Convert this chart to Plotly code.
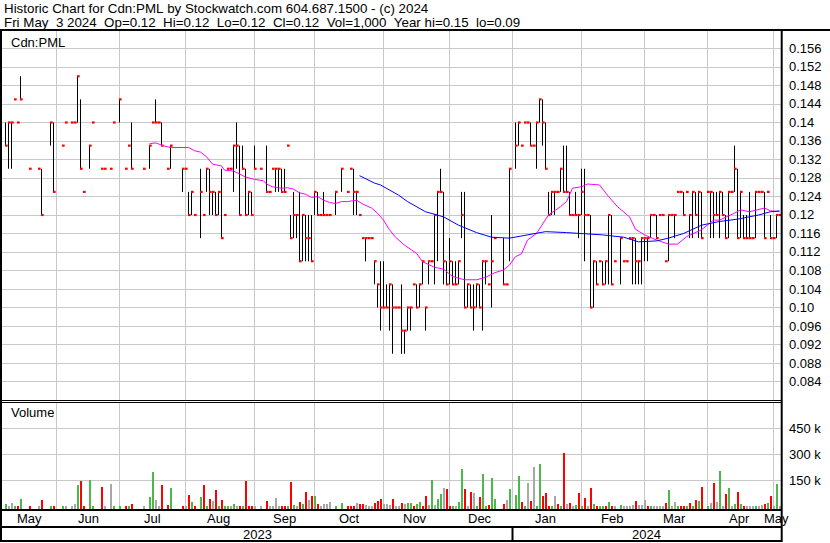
import pandas as pd
import plotly.graph_objects as go

W, H = 830, 543
FONT = "Liberation Sans, Arial, sans-serif"

# ---------------- data (one entry per weekday, None = no trade) ----------------
DAYS = pd.bdate_range("2023-05-09", "2024-05-03")

HIGH = [
    .14, .14, .14, .145, .14, .15, None, None, .13, None,
    None, .13, .13, None, None, .14, .14, None, None, .135,
    .14, None, .14, .14, .15, .145, .125, None, .135, .14,
    None, None, .13, .13, None, .13, .14, None, .145, None,
    .13, .135, .14, None, None, None, .13, None, .135, .14,
    .145, .14, .14, None, .13, .135, None, None, None, .13,
    .13, .125, .125, .12, None, .13, .12, .13, .13, .125,
    .125, .125, .13, .12, .13, .13, .135, .14, .135, .135,
    .13, .125, .125, .135, None, .13, None, .135, .125, .13,
    .13, .13, .13, .13, .135, .12, .125, .12, .125, .12,
    .12, .12, .12, .125, .125, .12, .125, .12, .12, None,
    .125, None, .13, None, .125, .13, .13, .125, .12, .115,
    .115, .115, .115, .11, .105, .11, .11, .105, .105, .105,
    .10, .10, .105, .095, .10, .10, .105, .105, .105, .11,
    .10, .11, .11, .12, .125, .13, .125, .11, .115, .11,
    .11, .11, .125, .125, .105, .105, .105, .105, .105, .11,
    .11, .105, .12, .115, None, None, .115, .105, .13, None,
    .14, .14, .135, .14, .14, .14, .135, .14, .145, .145,
    .14, .125, .125, .125, .125, .13, .135, .135, .125, .12,
    .125, .12, .13, .13, .12, .12, .11, .11, .11, .11,
    .11, .12, .12, .11, None, .115, .11, .11, .115, .115,
    .115, .11, .115, .115, .115, .12, .12, .12, .12, .12,
    .11, .12, .12, .12, .125, .125, .125, .125, .12, .125,
    .125, .125, .125, None, .125, .125, .125, .125, .125, .125,
    .12, .125, .125, .135, .13, .125, .12, .12, .125, .115,
    .125, .125, .125, .125, .125, .12, .115, .12, .12,
]

LOW = [
    .135, .13, .13, .145, .14, .145, None, None, .13, None,
    None, .13, .12, None, None, .135, .125, None, None, .135,
    .14, None, .14, .14, .14, .13, .125, None, .13, .14,
    None, None, .13, .13, None, .13, .14, None, .14, None,
    .13, .135, .13, None, None, None, .13, None, .13, .14,
    .14, .14, .135, None, .13, .13, None, None, None, .125,
    .13, .12, .12, .12, None, .115, .12, .125, .12, .12,
    .12, .12, .115, .12, .13, .13, .125, .13, .12, .13,
    .12, .12, .12, .13, None, .13, None, .125, .125, .13,
    .125, .125, .125, .125, .135, .115, .115, .115, .11, .11,
    .11, .11, .11, .12, .12, .12, .12, .12, .12, None,
    .12, None, .125, None, .125, .13, .12, .12, .12, .115,
    .11, .115, .115, .105, .10, .095, .10, .10, .095, .09,
    .10, .10, .09, .09, .095, .095, .105, .10, .10, .105,
    .095, .105, .11, .105, .11, .125, .105, .105, .105, .105,
    .105, .105, .115, .10, .10, .10, .095, .10, .10, .095,
    .105, .105, .10, .115, None, None, .105, .105, .11, None,
    .13, .135, .135, .14, .14, .135, .135, .13, .14, .135,
    .13, .12, .12, .12, .125, .125, .125, .125, .12, .12,
    .12, .115, .12, .11, .12, .10, .10, .105, .11, .105,
    .105, .105, .105, .11, None, .105, .11, .11, .115, .105,
    .105, .105, .105, .11, .11, .115, .12, .115, .12, .12,
    .11, .11, .12, .115, .125, .125, .12, .125, .115, .115,
    .12, .115, .115, None, .125, .115, .115, .12, .115, .12,
    .115, .115, .125, .125, .115, .115, .115, .115, .115, .115,
    .115, .125, .125, .115, .125, .115, .115, .115, .12,
]

CLOSE = [
    .135, .14, .14, .145, .14, .145, None, None, .13, None,
    None, .13, .12, None, None, .14, .125, None, None, .135,
    .14, None, .14, .14, .15, .13, .125, None, .135, .14,
    None, None, .13, .13, None, .13, .14, None, .145, None,
    .13, .135, .13, None, None, None, .13, None, .135, .14,
    .14, .14, .135, None, .13, .135, None, None, None, .13,
    .13, .12, .125, .12, None, .125, .12, .13, .125, .125,
    .12, .125, .115, .12, .13, .13, .135, .135, .12, .13,
    .12, .125, .12, .13, None, .13, None, .125, .125, .13,
    .13, .13, .125, .125, .135, .115, .12, .12, .11, .12,
    .115, .115, .11, .125, .12, .12, .12, .12, .12, None,
    .125, None, .13, None, .125, .13, .125, .125, .12, .115,
    .115, .115, .115, .11, .105, .10, .10, .10, .105, .10,
    .10, .10, .095, .095, .10, .10, .105, .10, .105, .11,
    .10, .11, .11, .12, .125, .125, .11, .105, .11, .105,
    .105, .11, .12, .10, .105, .10, .10, .105, .10, .11,
    .11, .105, .11, .115, None, None, .105, .105, .13, None,
    .135, .14, .135, .14, .14, .135, .135, .14, .145, .14,
    .13, .12, .125, .125, .125, .13, .125, .125, .12, .12,
    .12, .12, .125, .12, .12, .10, .11, .105, .11, .105,
    .11, .12, .105, .11, None, .115, .11, .11, .115, .115,
    .11, .11, .115, .115, .115, .12, .12, .115, .12, .12,
    .11, .12, .12, .12, .125, .125, .12, .125, .12, .125,
    .12, .125, .115, None, .125, .125, .12, .12, .125, .12,
    .115, .125, .125, .13, .115, .125, .115, .115, .115, .115,
    .125, .125, .125, .115, .125, .115, .115, .12, .12,
]

VOLUME_K = [
    13, 2, 17, 2, 2, 42, 0, 0, 2, 0,
    0, 2, 34, 0, 0, 4, 4, 0, 0, 2,
    2, 0, 2, 13, 123, 146, 2, 0, 150, 2,
    0, 0, 111, 2, 0, 127, 2, 0, 2, 0,
    2, 2, 13, 0, 0, 0, 2, 0, 54, 198,
    36, 2, 123, 0, 8, 106, 0, 0, 0, 4,
    2, 65, 25, 2, 0, 54, 123, 2, 42, 31,
    94, 4, 36, 2, 2, 2, 13, 2, 4, 2,
    146, 2, 4, 2, 0, 2, 0, 31, 4, 2,
    46, 2, 2, 2, 4, 140, 8, 4, 25, 13,
    82, 36, 59, 59, 13, 2, 13, 13, 25, 0,
    4, 0, 19, 0, 2, 2, 4, 19, 13, 13,
    8, 2, 2, 19, 31, 42, 13, 13, 8, 42,
    2, 2, 19, 13, 19, 19, 2, 13, 25, 2,
    59, 8, 152, 8, 42, 71, 106, 100, 2, 4,
    4, 25, 215, 100, 2, 82, 77, 2, 54, 186,
    2, 8, 163, 42, 0, 0, 13, 36, 100, 0,
    65, 175, 25, 2, 134, 31, 227, 4, 244, 59,
    77, 2, 4, 59, 13, 4, 307, 13, 19, 2,
    8, 77, 2, 48, 2, 106, 13, 2, 2, 2,
    2, 25, 4, 2, 0, 8, 2, 2, 2, 8,
    31, 8, 8, 36, 2, 4, 2, 2, 2, 4,
    19, 94, 2, 25, 4, 2, 2, 2, 19, 4,
    36, 31, 111, 0, 2, 19, 134, 25, 205, 2,
    71, 106, 2, 13, 82, 13, 2, 2, 2, 2,
    2, 2, 8, 13, 19, 59, 2, 127, 1,
]

# G = up, R = down, N = unchanged, - = no trade
VOL_DIR = list(
    "GNNGRG--R-" "-NR--GR--G" "N-NNGRR-GG" "--RN-NG-G-" "RGR---N-GG"
    "NNR-RG---R" "NRGR-GRGRN" "RGRGGNGNRG" "RRRN-N-RNN" "NNRRGRGNRG"
    "RNRGRNNNN-" "G-G-RRRNRR" "NNNRRRNNNR" "NNRNGGRGGR" "RNGNGGNRRG"
    "NGGRNRNGRG" "GRGG--RNG-" "GGRGNRNGGR" "RRGNRGRNRN" "GRGRNRGRGG"
    "RGRN-GNNNN" "RNNNRGNNNN" "RGNNGRRGRG" "RGR-GNRNGN" "RGNGRGRNNN"
    "GNNRGRNGN"
)

# moving averages (day index, value)
MA_SHORT_IDX = [48, 50, 53, 55, 61, 63, 65, 67, 69, 72, 73, 76, 78, 80, 83, 86, 87, 89, 92, 94,
                96, 98, 100, 102, 104, 106, 108, 110, 112, 114, 117, 119, 122, 124, 126, 128, 130,
                133, 137, 139, 143, 146, 149, 153, 157, 160, 163, 166, 168, 170, 172, 174, 177,
                180, 181, 185, 187, 189, 192, 194, 198, 201, 204, 208, 210, 213, 217, 221, 224,
                227, 232, 236, 238, 243, 245, 248, 253, 255, 258]
MA_SHORT_VAL = [.1354, .1356, .1349, .1346, .1346, .1339, .1336, .1326, .1310, .1306, .1297, .1295,
                .1289, .1282, .1277, .1274, .1267, .1261, .1258, .1259, .1256, .1248, .1245, .1238,
                .1240, .1232, .1227, .1225, .1229, .1229, .1232, .1224, .1215, .1204, .1189, .1168,
                .1152, .1135, .1117, .1099, .1087, .1083, .1067, .1060, .1060, .1065, .1075, .1081,
                .1092, .1110, .1116, .1146, .1160, .1189, .1200, .1218, .1229, .1258, .1261, .1267,
                .1265, .1240, .1218, .1196, .1169, .1157, .1146, .1137, .1137, .1153, .1168, .1189,
                .1189, .1204, .1211, .1207, .1215, .1209, .1207]
MA_LONG_IDX = [118, 123, 125, 129, 131, 134, 140, 146, 151, 157, 162, 168, 172, 175, 180, 187,
               194, 199, 206, 211, 217, 221, 226, 232, 238, 244, 251, 255, 258]
MA_LONG_VAL = [.1285, .1269, .1265, .1250, .1243, .1229, .1207, .1196, .1178, .1162, .1152, .1150,
               .1155, .1159, .1164, .1162, .1160, .1157, .1152, .1142, .1144, .1150, .1160, .1178,
               .1186, .1191, .1200, .1207, .1209]

PRICE_TICKS = [0.156, 0.152, 0.148, 0.144, 0.14, 0.136, 0.132, 0.128, 0.124, 0.12,
               0.116, 0.112, 0.108, 0.104, 0.10, 0.096, 0.092, 0.088, 0.084]
PRICE_TICK_TEXT = ["0.156", "0.152", "0.148", "0.144", "0.14", "0.136", "0.132", "0.128", "0.124",
                   "0.12", "0.116", "0.112", "0.108", "0.104", "0.10", "0.096", "0.092", "0.088",
                   "0.084"]
VOL_TICKS = [450000, 300000, 150000]
VOL_TICK_TEXT = ["450 k", "300 k", "150 k"]

TITLE_1 = "Historic Chart for Cdn:PML by Stockwatch.com 604.687.1500 - (c) 2024"
TITLE_2 = "Fri May  3 2024  Op=0.12  Hi=0.12  Lo=0.12  Cl=0.12  Vol=1,000  Year hi=0.15  lo=0.09"

# ---------------- geometry helpers ----------------
def fx(p):
    return p / W


def fy(p):
    return 1 - p / H


XR = [-1.1667, 258.5]          # day-index range spanning px 2 .. 781
PRICE_TOP, PRICE_BOT = 31, 400
VOL_TOP, VOL_BOT = 403, 509
PRICE_RANGE = [0.08, 0.159784]
VOL_RANGE = [-15600, 595900]

# month boundaries (last weekday on/before the 1st) and label centres
months = pd.date_range("2023-06-01", "2024-05-01", freq="MS")
bounds = [int((DAYS <= m).sum()) - 1 for m in months]
idx = pd.Series(range(len(DAYS)), index=DAYS)
mgroups = idx.groupby([DAYS.year, DAYS.month])
month_pos = [(g.mean(), g.index[0].strftime("%b")) for _, g in mgroups]
ygroups = idx.groupby(DAYS.year)
year_pos = [(g.mean(), str(y)) for y, g in ygroups]
jan_idx = int((DAYS < pd.Timestamp("2024-01-01")).sum())

fig = go.Figure()

# high-low lines
hx, hy = [], []
for k, (h, l) in enumerate(zip(HIGH, LOW)):
    if h is None or l is None or h == l:
        continue
    hx += [k, k, None]
    hy += [l, h, None]
fig.add_trace(go.Scatter(x=hx, y=hy, mode="lines", line=dict(color="black", width=1),
                         hoverinfo="skip", xaxis="x", yaxis="y"))

# close ticks
cx, cy = [], []
for k, c in enumerate(CLOSE):
    if c is None:
        continue
    cx += [k - 0.17, k + 0.72, None]
    cy += [c, c, None]
fig.add_trace(go.Scatter(x=cx, y=cy, mode="lines", line=dict(color="#ff0000", width=2.2),
                         hoverinfo="skip", xaxis="x", yaxis="y"))

# moving averages
fig.add_trace(go.Scatter(x=MA_SHORT_IDX, y=MA_SHORT_VAL, mode="lines",
                         line=dict(color="#ff00ff", width=1), hoverinfo="skip",
                         xaxis="x", yaxis="y"))
fig.add_trace(go.Scatter(x=MA_LONG_IDX, y=MA_LONG_VAL, mode="lines",
                         line=dict(color="#0000ff", width=1), hoverinfo="skip",
                         xaxis="x", yaxis="y"))

# volume bars
COLMAP = {"G": "#4cb84a", "R": "#ff0000", "N": "#a8a8a8"}
vx, vy, vc = [], [], []
for k, (v, d) in enumerate(zip(VOLUME_K, VOL_DIR)):
    if v <= 0 or d == "-":
        continue
    vx.append(k)
    vy.append(v * 1000 - VOL_RANGE[0])
    vc.append(COLMAP[d])
fig.add_trace(go.Bar(x=vx, y=vy, base=VOL_RANGE[0], width=0.67,
                     marker=dict(color=vc, line=dict(width=0)),
                     hoverinfo="skip", xaxis="x2", yaxis="y2"))

grid = "#c8c8c8"
axis_common = dict(showticklabels=False, ticks="", zeroline=False, showline=False,
                   fixedrange=True)
fig.update_layout(
    width=W, height=H,
    margin=dict(l=0, r=0, t=0, b=0),
    paper_bgcolor="white", plot_bgcolor="white",
    showlegend=False, bargap=0,
    xaxis=dict(domain=[fx(2), fx(781)], range=XR, anchor="y", tickvals=bounds,
               showgrid=True, gridcolor=grid, gridwidth=1, **axis_common),
    xaxis2=dict(domain=[fx(2), fx(781)], range=XR, anchor="y2", tickvals=bounds,
                matches="x", showgrid=True, gridcolor=grid, gridwidth=1, **axis_common),
    yaxis=dict(domain=[fy(PRICE_BOT), fy(PRICE_TOP)], range=PRICE_RANGE, anchor="x",
               tickvals=PRICE_TICKS, showgrid=True, gridcolor=grid, gridwidth=1, **axis_common),
    yaxis2=dict(domain=[fy(VOL_BOT), fy(VOL_TOP)], range=VOL_RANGE, anchor="x2",
                tickvals=VOL_TICKS, showgrid=True, gridcolor=grid, gridwidth=1, **axis_common),
)

# frame lines
def hline(y, x0, x1, w):
    return dict(type="line", xref="paper", yref="paper", x0=fx(x0), x1=fx(x1),
                y0=fy(y), y1=fy(y), line=dict(color="black", width=w), layer="above")


def vline(x, y0, y1, w):
    return dict(type="line", xref="paper", yref="paper", x0=fx(x), x1=fx(x),
                y0=fy(y0), y1=fy(y1), line=dict(color="black", width=w), layer="above")


shapes = [
    hline(30, 0, W, 2),
    hline(400.5, 0, 782, 1),
    hline(402.5, 0, 782, 1),
    hline(510, 0, 782, 2),
    hline(527, 0, 782, 2),
    hline(541, 0, 782, 2),
    vline(1, 29, 542, 2),
    vline(781.7, 29, 542, 2),
]
jan_px = 5.5 + 3 * jan_idx
shapes.append(vline(jan_px, 527, 541, 2))
fig.update_layout(shapes=shapes)

ann = []
base_font = dict(family=FONT, size=13, color="black")
title_font = dict(family=FONT, size=13.35, color="black")
ann.append(dict(text=TITLE_1.replace(" ", "\u00a0"), x=fx(2), y=fy(9), xref="paper", yref="paper",
                xanchor="left", yanchor="middle", showarrow=False, font=title_font))
ann.append(dict(text=TITLE_2.replace(" ", "\u00a0"), x=fx(2), y=fy(22.5), xref="paper",
                yref="paper", xanchor="left", yanchor="middle", showarrow=False, font=title_font))
ann.append(dict(text="Cdn:PML", x=fx(9), y=fy(42), xref="paper", yref="paper",
                xanchor="left", yanchor="middle", showarrow=False, font=base_font))
ann.append(dict(text="Volume", x=fx(9), y=fy(413), xref="paper", yref="paper",
                xanchor="left", yanchor="middle", showarrow=False, font=base_font))
for v, t in zip(PRICE_TICKS, PRICE_TICK_TEXT):
    ann.append(dict(text=t, x=fx(787), y=v, xref="paper", yref="y", xanchor="left",
                    yanchor="middle", showarrow=False, font=base_font))
for v, t in zip(VOL_TICKS, VOL_TICK_TEXT):
    ann.append(dict(text=t, x=fx(787), y=v, xref="paper", yref="y2", xanchor="left",
                    yanchor="middle", showarrow=False, font=base_font))
for pos, name in month_pos:
    ann.append(dict(text=name, x=pos, y=fy(518.5), xref="x", yref="paper", xanchor="center",
                    yanchor="middle", showarrow=False, font=base_font))
for pos, name in year_pos:
    ann.append(dict(text=name, x=pos, y=fy(534), xref="x", yref="paper", xanchor="center",
                    yanchor="middle", showarrow=False, font=base_font))
fig.update_layout(annotations=ann)

fig.write_html("out.html", config={"displayModeBar": False},
               post_script="document.body.style.margin='0px';document.body.style.overflow='hidden';")
